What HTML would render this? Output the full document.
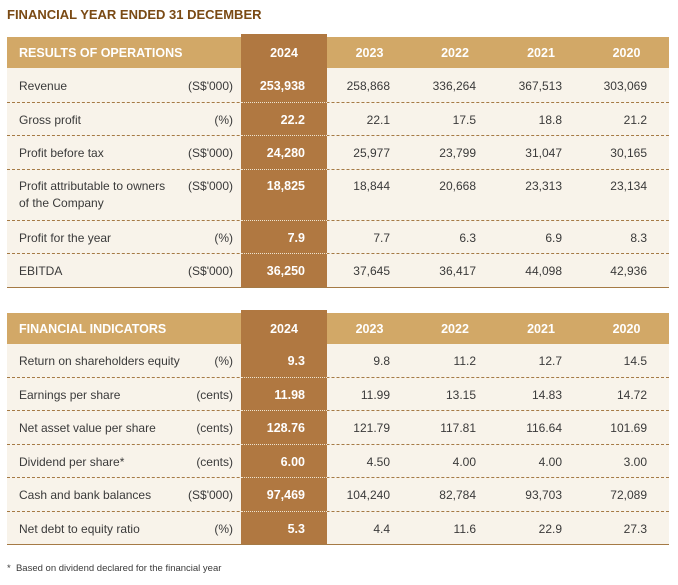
<!DOCTYPE html>
<html><head><meta charset="utf-8"><style>
body{margin:0;width:678px;height:585px;background:#fff;position:relative;overflow:hidden;font-family:"Liberation Sans Narrow","Liberation Sans",sans-serif;color:#3a3a3a;}
.a{position:absolute;}
.title{left:7px;top:7px;font:bold 13px "Liberation Sans",sans-serif;color:#7a4a14;}
.hdr{background:#d2a867;}
.hl{background:#b07841;}
.row{background:#f8f3ea;}
.t{position:absolute;font-size:12px;line-height:14px;white-space:nowrap;}
.h{color:#fff;font:bold 12.5px "Liberation Sans",sans-serif;}
.dash{position:absolute;left:7px;width:662px;height:0;border-top:1px dashed #a57a45;}
.dot{position:absolute;left:241px;width:86px;height:0;border-top:1px dotted #f3e3cf;}
.solid{position:absolute;left:7px;width:662px;height:1px;background:#a57a45;}
.foot{left:7px;top:563px;font-size:9.5px;}
</style></head><body>
<div class="a title">FINANCIAL YEAR ENDED 31 DECEMBER</div>
<div id="root"></div>
<div class="a foot">*&nbsp;&nbsp;Based on dividend declared for the financial year</div>
<script>
const years=["2024","2023","2022","2021","2020"];
const opsLabels=[["Revenue"],["Gross profit"],["Profit before tax"],["Profit attributable to owners","of the Company"],["Profit for the year"],["EBITDA"]];
const opsUnits=["(S$'000)","(%)","(S$'000)","(S$'000)","(%)","(S$'000)"];
const opsValues=[["253,938","258,868","336,264","367,513","303,069"],["22.2","22.1","17.5","18.8","21.2"],["24,280","25,977","23,799","31,047","30,165"],["18,825","18,844","20,668","23,313","23,134"],["7.9","7.7","6.3","6.9","8.3"],["36,250","37,645","36,417","44,098","42,936"]];
const indLabels=[["Return on shareholders equity"],["Earnings per share"],["Net asset value per share"],["Dividend per share*"],["Cash and bank balances"],["Net debt to equity ratio"]];
const indUnits=["(%)","(cents)","(cents)","(cents)","(S$'000)","(%)"];
const indValues=[["9.3","9.8","11.2","12.7","14.5"],["11.98","11.99","13.15","14.83","14.72"],["128.76","121.79","117.81","116.64","101.69"],["6.00","4.50","4.00","4.00","3.00"],["97,469","104,240","82,784","93,703","72,089"],["5.3","4.4","11.6","22.9","27.3"]];
const root=document.getElementById('root');
const colL=[241,327,412,498,584],colR=[327,412,498,584,669];
function box(cls,x,y,w,h){const d=document.createElement('div');d.className='a '+cls;d.style.left=x+'px';d.style.top=y+'px';d.style.width=w+'px';d.style.height=h+'px';root.appendChild(d);return d;}
function txt(s,x,y,extra,cls){const d=document.createElement('div');d.className='t '+(cls||'');d.textContent=s;d.style.top=y+'px';Object.assign(d.style,extra||{});if(x!==null)d.style.left=x+'px';root.appendChild(d);return d;}
function table(top,name,labels,units,values,heights,prefix){
  const hdrTop=top+3,hdrH=31;
  let total=heights.reduce((a,b)=>a+b,0);
  const bodyTop=hdrTop+hdrH;
  const bg=box('row',7,bodyTop,662,total);
  
  
  const hd=box('hdr',7,hdrTop,662,hdrH);
  
  
  const hl=box('hl',241,top,86,bodyTop+total-top);
  
  
  const ht=txt(name,19,hdrTop+9,null,'h');
  
  
  years.forEach((y,i)=>{const e=txt(y,colL[i],hdrTop+9,{width:(colR[i]-colL[i])+'px',textAlign:'center'},'h');
    
    });
  let yy=bodyTop;
  labels.forEach((lab,r)=>{
    const h=heights[r];
    const ty=lab.length>1?yy+9:yy+h/2-7;
    lab.forEach((l,k)=>{const e=txt(l,19,ty+k*17);
      
      });
    const u=txt(units[r],null,ty,{right:(678-233)+'px'});
    
    
    values[r].forEach((v,i)=>{const e=txt(v,null,ty,{right:(678-colR[i]+22)+'px'},i===0?'h':'');
      if(i===0){e.style.fontSize='12.5px';}
      
      });
    yy+=h;
    if(r<labels.length-1){const d=document.createElement('div');d.className='dash';d.style.top=(yy-1)+'px';root.appendChild(d);
      
      
      const o=document.createElement('div');o.className='dot';o.style.top=(yy-1)+'px';root.appendChild(o);
      
      }
  });
  const s=document.createElement('div');s.className='solid';s.style.top=(yy-1)+'px';root.appendChild(s);
  
  
}
table(34,"RESULTS OF OPERATIONS",opsLabels,opsUnits,opsValues,[35,33,34,51,33,34],'ops');
table(310,"FINANCIAL INDICATORS",indLabels,indUnits,indValues,[34,33,34,33,34,33],'ind');
</script>
</body></html>
